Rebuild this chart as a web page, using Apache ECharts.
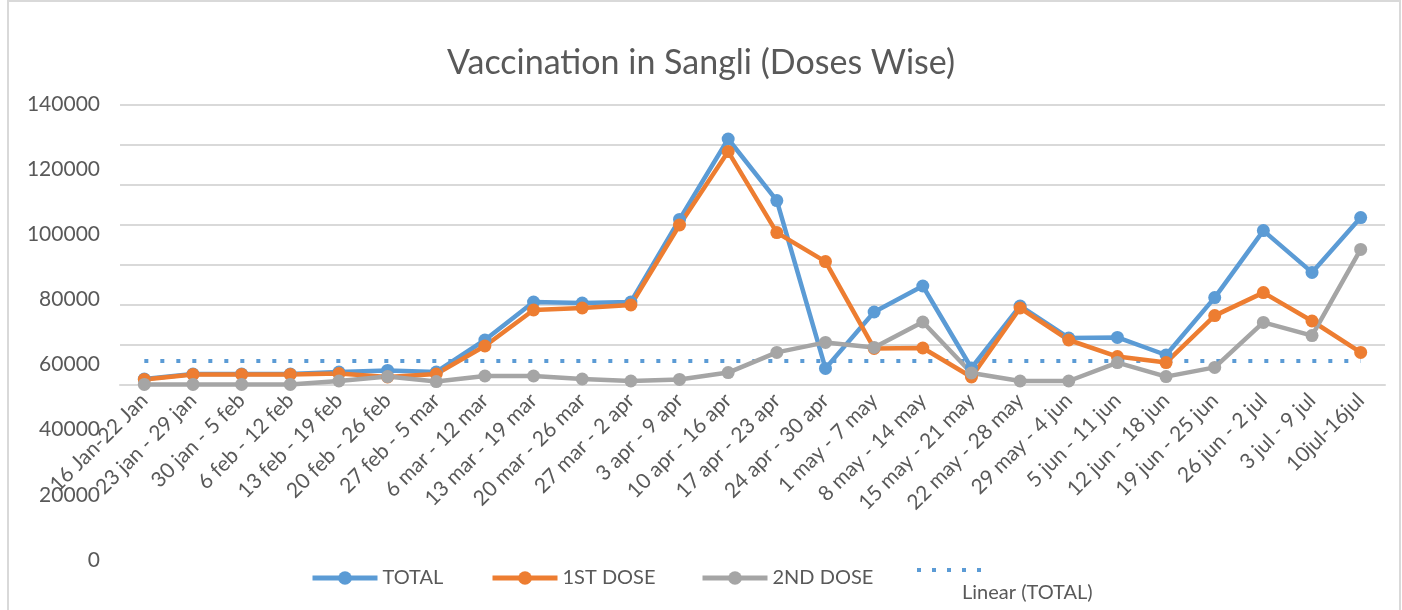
<!DOCTYPE html>
<html><head><meta charset="utf-8">
<script src="https://cdn.jsdelivr.net/npm/echarts@6/dist/echarts.min.js"></script>
<style>html,body{margin:0;padding:0;background:#fff}#c{width:1402px;height:610px}</style>
</head><body><div id="c"></div>
<script>
const categories = ["16 Jan-22 Jan","23 jan - 29 jan","30 jan - 5 feb","6 feb - 12 feb","13 feb - 19 feb","20 feb - 26 feb","27 feb - 5 mar","6 mar - 12 mar","13 mar - 19 mar","20 mar - 26 mar","27 mar - 2 apr","3 apr - 9 apr","10 apr - 16 apr","17 apr - 23 apr","24 apr - 30 apr","1 may - 7 may","8 may - 14 may","15 may - 21 may","22 may - 28 may","29 may - 4 jun","5 jun - 11 jun","12 jun - 18 jun","19 jun - 25 jun","26 jun - 2 jul","3 jul - 9 jul","10jul-16jul"];
const total    = [3000,5500,5500,5500,6500,7300,6500,22500,41500,41000,41500,82800,123000,92200,8300,36500,49500,8500,39500,23500,23800,15000,43700,77200,56300,83700];
const firstDose= [2800,5300,5300,5300,5700,4000,5500,19500,37500,38500,40000,80000,116700,76200,61700,18300,18500,4000,38500,22500,14200,11200,34700,46200,32000,16300];
const secondDose=[300,300,300,300,2000,4200,1700,4500,4500,3000,2000,2800,6200,16300,21300,18800,31500,6000,2000,2000,11200,4200,8800,31300,24700,67800];
const trendTotal = categories.map(() => 12000);
const yTicks = [0,20000,40000,60000,80000,100000,120000,140000];

const font = "Lato";
const txt = "#595959";
const chart = echarts.init(document.getElementById('c'));
const lineSeries = (name, data, color) => ({
  name, type:'line', data, xAxisIndex:0, yAxisIndex:0,
  symbol:'circle', symbolSize:13, showSymbol:true,
  itemStyle:{color}, lineStyle:{color, width:4.5}, emphasis:{disabled:true}
});
const legendItem = (name, left) => ({
  data:[name], left, top:563, itemWidth:65, itemHeight:17,
  lineStyle:{width:5}, selectedMode:false,
  textStyle:{fontFamily:font, fontSize:20, color:txt}
});
const dots = 'path://M0,0h4v4h-4z M15,0h4v4h-4z M30,0h4v4h-4z M45,0h4v4h-4z M60,0h4v4h-4z';
chart.setOption({
  animation:false,
  textStyle:{fontFamily:font},
  title:{text:'Vaccination in Sangli (Doses Wise)', left:'center', top:41,
    textStyle:{fontFamily:font, fontSize:34, fontWeight:'normal', color:txt}},
  graphic:[{type:'rect', shape:{x:8,y:1,width:1392,height:620}, style:{fill:'none', stroke:'#d9d9d9', lineWidth:2}, silent:true}],
  legend:[
    legendItem('TOTAL', 305),
    legendItem('1ST DOSE', 485),
    legendItem('2ND DOSE', 695),
    {data:[{name:'Linear (TOTAL)', icon:dots}], left:912, top:563, itemWidth:64, itemHeight:4, selectedMode:false,
     formatter:'{a|Linear (TOTAL)}',
     textStyle:{fontFamily:font, fontSize:20, color:txt, rich:{a:{fontFamily:font, fontSize:20, color:txt, padding:[46,0,0,-24]}}}}
  ],
  grid:[{left:120, right:17, top:105, bottom:225},{left:120, right:17, top:104, bottom:50}],
  xAxis:[{
    type:'category', data:categories, gridIndex:0, boundaryGap:true,
    axisTick:{show:false}, axisLine:{lineStyle:{color:'#d9d9d9', width:2}},
    axisLabel:{rotate:45, interval:0, color:txt, fontSize:21, fontFamily:font, margin:12}
  },{
    type:'category', data:categories, gridIndex:1, show:false
  }],
  yAxis:[{
    type:'value', gridIndex:0, min:0, max:140000, interval:20000,
    axisLabel:{show:false}, axisLine:{show:false}, axisTick:{show:false},
    splitLine:{lineStyle:{color:'#d9d9d9', width:2}}
  },{
    type:'value', gridIndex:1, min:0, max:140000, interval:20000,
    axisLabel:{color:txt, fontSize:21, fontFamily:font, margin:20,
      formatter:v => yTicks.includes(v) ? String(v) : ''},
    axisLine:{show:false}, axisTick:{show:false}, splitLine:{show:false}
  }],
  series:[
    lineSeries('TOTAL', total, '#5B9BD5'),
    lineSeries('1ST DOSE', firstDose, '#ED7D31'),
    lineSeries('2ND DOSE', secondDose, '#A5A5A5'),
    {name:'Linear (TOTAL)', type:'line', data:trendTotal, xAxisIndex:0, yAxisIndex:0,
     symbol:'none', itemStyle:{color:'#5B9BD5'}, lineStyle:{color:'#5B9BD5', width:4, type:[4,12]}, z:1, emphasis:{disabled:true}}
  ]
});
</script></body></html>
